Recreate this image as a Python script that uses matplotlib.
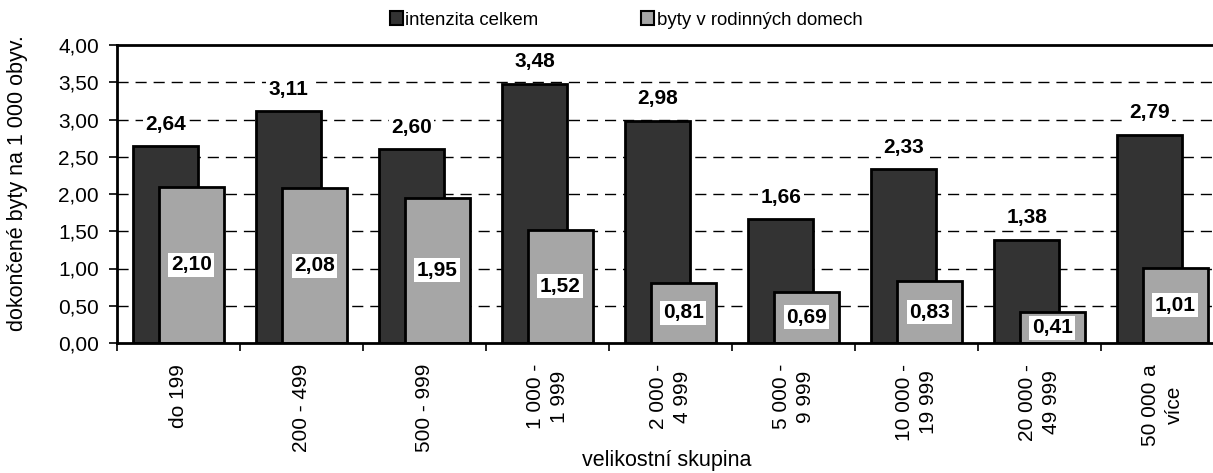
import matplotlib
matplotlib.use("Agg")
import matplotlib.pyplot as plt
import numpy as np
from matplotlib.patches import Patch

plt.rcParams['font.family'] = ['Liberation Sans', 'DejaVu Sans']

categories = ["do 199", "200 - 499", "500 - 999", "1 000 -\n1 999", "2 000 -\n4 999",
              "5 000 -\n9 999", "10 000 -\n19 999", "20 000 -\n49 999", "50 000 a\nvíce"]
intenzita = [2.64, 3.11, 2.60, 3.48, 2.98, 1.66, 2.33, 1.38, 2.79]
rd = [2.10, 2.08, 1.95, 1.52, 0.81, 0.69, 0.83, 0.41, 1.01]
yticks = [0, 0.5, 1.0, 1.5, 2.0, 2.5, 3.0, 3.5, 4.0]

W, H, DPI = 1213, 473, 100
fig = plt.figure(figsize=(W / DPI, H / DPI), dpi=DPI)
ax = fig.add_axes([117 / W, (H - 343) / H, (1224 - 117) / W, (343 - 45) / H])

def fmt(v):
    return f"{v:.2f}".replace(".", ",")

x = np.arange(len(categories))
dark = "#333333"
grey = "#A6A6A6"
bw = 0.53
ax.bar(x - 0.105, intenzita, bw, color=dark, edgecolor="black", linewidth=2, zorder=3)
ax.bar(x + 0.105, rd, bw, color=grey, edgecolor="black", linewidth=2, zorder=4)

for xi, v in zip(x, intenzita):
    ax.annotate(fmt(v), (xi - 0.105, v), xytext=(0, 16), textcoords="offset points",
                ha="center", va="center", fontsize=15, fontweight="bold", zorder=6,
                bbox=dict(boxstyle="square,pad=0.12", fc="white", ec="none"), annotation_clip=False)
for xi, v in zip(x, rd):
    ax.text(xi + 0.105, v / 2, fmt(v), ha="center", va="center", fontsize=15, fontweight="bold",
            zorder=6, bbox=dict(boxstyle="square,pad=0.12", fc="white", ec="none"))

ax.set_xlim(-0.5, len(categories) - 0.5)
ax.set_ylim(0, 4)
ax.set_yticks(yticks)
ax.set_yticklabels([fmt(v) for v in yticks], fontsize=15)
for yv in yticks[1:-1]:
    ax.axhline(yv, color="black", linewidth=1, linestyle=(0, (8, 5)), zorder=1)

ax.set_xticks(x)
ax.set_xticklabels(categories, rotation=90, fontsize=15, multialignment="center", linespacing=1.35)
ax.set_xticks(np.arange(-0.5, len(categories)), minor=True)
ax.tick_params(axis="x", which="major", length=0, pad=15)
ax.tick_params(axis="x", which="minor", length=6, width=1.2, direction="out")
ax.tick_params(axis="y", length=6, width=1.2, direction="out", pad=7)

for s in ["left", "bottom", "top"]:
    ax.spines[s].set_linewidth(2)
    ax.spines[s].set_zorder(5)
ax.spines["right"].set_visible(False)

ax.set_ylabel("dokončené byty na 1 000 obyv.", fontsize=15.5)
ax.yaxis.set_label_coords(-89 / (1224 - 117), (343 - 183) / 298)
fig.text(667 / W, 1 - 471 / H, "velikostní skupina", ha="center", va="bottom", fontsize=15.5)

handles = [Patch(facecolor=dark, edgecolor="black", linewidth=1.5),
           Patch(facecolor=grey, edgecolor="black", linewidth=1.5)]
fig.legend(handles, ["intenzita celkem", "byty v rodinných domech"], loc="center",
           bbox_to_anchor=(626 / W, 1 - 20 / H), ncol=2, frameon=False, fontsize=13.4,
           handlelength=0.7, handleheight=0.7, handletextpad=0.15, columnspacing=5.5)

fig.savefig("out.png", dpi=DPI)
